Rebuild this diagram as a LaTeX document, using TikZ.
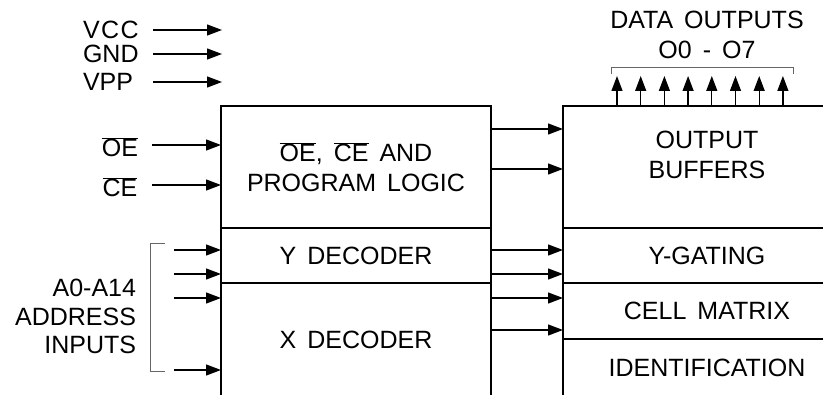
\documentclass[tikz,border=0pt]{standalone}
\usepackage{fontspec}
\setmainfont{Liberation Sans}
\usetikzlibrary{arrows.meta}
\newcommand{\ovl}[1]{$\overline{\mbox{#1}}$}
\newcommand{\bigfont}{\fontsize{25}{30}\selectfont\spaceskip=11pt plus 2pt minus 1pt\relax}
\newcommand{\addrfont}{\fontsize{25}{28.5}\selectfont\spaceskip=11pt plus 2pt minus 1pt\relax}
\begin{document}
\begin{tikzpicture}[x=1pt, y=-1pt,
  font=\bigfont,
  blk/.style={draw, line width=2.9pt, inner sep=0pt, outer sep=0pt, anchor=north west, align=center},
  arr/.style={line width=1.3pt, -{Triangle[length=15pt,width=11pt]}},
  brk/.style={line width=1pt, draw=black!60},
  txt/.style={inner sep=0pt, outer sep=0pt, align=center}]
\useasboundingbox (0,0) rectangle (823,395);

% left block
\node[blk, minimum width=270pt, minimum height=122pt] (logic) at (221,106) {\ovl{OE}, \ovl{CE} AND\\PROGRAM LOGIC};
\node[blk, minimum width=270pt, minimum height=55pt] (ydec) at (221,228) {Y DECODER};
\node[blk, minimum width=270pt, minimum height=114pt] (xdec) at (221,283) {X DECODER};

% right block
\node[blk, minimum width=288pt, minimum height=122pt] (outbuf) at (563,106) {};
\node[txt] (outtxt) at (707,155) {OUTPUT\\BUFFERS};
\node[blk, minimum width=288pt, minimum height=55pt] (ygate) at (563,228) {Y-GATING};
\node[blk, minimum width=288pt, minimum height=56pt] (cell) at (563,283) {CELL MATRIX};
\node[blk, minimum width=288pt, minimum height=58pt] (ident) at (563,339) {IDENTIFICATION};

% power pins
\coordinate (pinL) at (153,0);
\coordinate (pinR) at (222,0);
\node[txt, anchor=west] (vcc) at (83,30) {V\kern1.5pt C\kern1.5pt C};
\node[txt, anchor=west] (gnd) at (83,54) {GND};
\node[txt, anchor=west] (vpp) at (83,82) {VPP};
\draw[arr] (vcc.east -| pinL) -- (vcc.east -| pinR);
\draw[arr] (gnd.east -| pinL) -- (gnd.east -| pinR);
\draw[arr] (vpp.east -| pinL) -- (vpp.east -| pinR);

% control inputs
\node[txt, anchor=base] (oe) at (120,157) {\ovl{OE}};
\node[txt, anchor=base] (ce) at (120,197) {\ovl{CE}};
\coordinate (oeA) at (152,145);
\coordinate (ceA) at (152,185);
\draw[arr] (oeA) -- (oeA -| logic.west);
\draw[arr] (ceA) -- (ceA -| logic.west);

% address inputs
\node[txt, align=right, anchor=east, font=\addrfont] (addr) at (136,316.5) {A0-A14\\ADDRESS\\INPUTS};
\draw[brk] (165,244) -- (150,244) -- (150,372) -- (165,372);
\coordinate (a1) at (174,250);
\coordinate (a2) at (174,274);
\coordinate (a3) at (174,298);
\coordinate (a4) at (174,370);
\draw[arr] (a1) -- (a1 -| ydec.west);
\draw[arr] (a2) -- (a2 -| ydec.west);
\draw[arr] (a3) -- (a3 -| xdec.west);
\draw[arr] (a4) -- (a4 -| xdec.west);

% between blocks
\coordinate (m1) at (0,129);
\coordinate (m2) at (0,169);
\coordinate (m3) at (0,250);
\coordinate (m4) at (0,274);
\coordinate (m5) at (0,298);
\coordinate (m6) at (0,330);
\draw[arr] (logic.east |- m1) -- (outbuf.west |- m1);
\draw[arr] (logic.east |- m2) -- (outbuf.west |- m2);
\draw[arr] (ydec.east |- m3) -- (ygate.west |- m3);
\draw[arr] (ydec.east |- m4) -- (ygate.west |- m4);
\draw[arr] (xdec.east |- m5) -- (cell.west |- m5);
\draw[arr] (xdec.east |- m6) -- (cell.west |- m6);

% data outputs
\node[txt] (dout) at (707,35) {DATA OUTPUTS\\O0 - O7};
\draw[brk] (611,74) -- (611,68) -- (793,68) -- (793,74);
\coordinate (dtop) at (0,76);
\foreach \i in {0,...,7} {
  \coordinate (d\i) at (617+\i*23.7,0);
  \draw[arr] (d\i |- outbuf.north) -- (d\i |- dtop);
}
\end{tikzpicture}
\end{document}
